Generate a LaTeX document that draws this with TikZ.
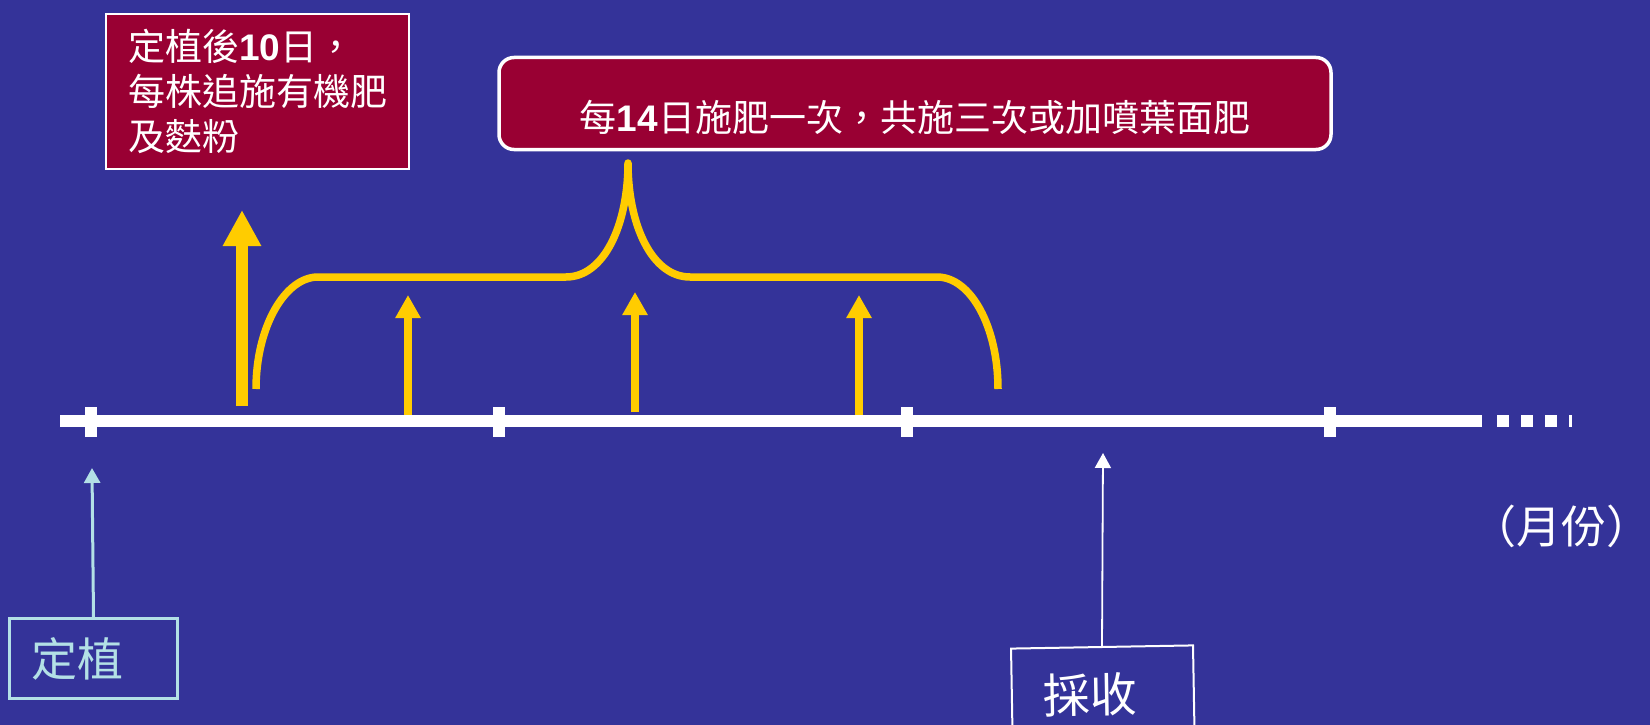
\documentclass[tikz,border=0pt]{standalone}
\usepackage{fontspec}
\newfontfamily\cjk{Noto Sans CJK TC}
\newfontfamily\arialf{Liberation Sans}
\usetikzlibrary{arrows.meta}
\definecolor{bgblue}{RGB}{52,51,153}
\definecolor{crimson}{RGB}{153,0,51}
\definecolor{gold}{RGB}{255,204,0}
\definecolor{pale}{RGB}{179,224,230}
\begin{document}
\begin{tikzpicture}[x=1pt,y=-1pt,
  notebox/.style={draw=white, line width=2pt, fill=crimson, text=white},
  goldline/.style={draw=gold, line width=7.5pt, line join=round},
  bigarrow/.style={draw=gold, line width=12pt, -{Triangle[width=36pt,length=36pt]}},
  smallarrow/.style={draw=gold, line width=8pt, -{Triangle[width=24pt,length=23pt]}},
  palearrow/.style={draw=pale, line width=3pt, -{Triangle[width=16pt,length=15pt]}},
  whitearrow/.style={draw=white, line width=1.8pt, -{Triangle[width=16pt,length=15pt]}},
  tickmark/.style={fill=white}
]
\useasboundingbox (0,0) rectangle (1650,725);
\fill[bgblue] (0,0) rectangle (1650,725);

% timeline
\coordinate (tlstart) at (60,421);
\coordinate (tlend) at (1482,421);
\coordinate (dotstart) at (1497,421);
\coordinate (dotend) at (1572,421);
\draw[white, line width=12pt] (tlstart) -- (tlend);
\draw[white, line width=12pt, dash pattern=on 12pt off 12pt] (dotstart) -- (dotend);
\foreach \tx in {91,499,907,1330}{
  \fill[tickmark] (\tx-6,407) rectangle (\tx+6,437);
}

% top-left note
\node[notebox, anchor=north west, minimum width=303pt, minimum height=155pt,
      text width=259pt, inner xsep=22pt, align=left,
      font=\cjk\fontsize{37}{45}\selectfont] (first) at (105,13)
  {定植後{\arialf\bfseries 10}日，\\每株追施有機肥\\及麩粉};

% central note
\node[notebox, line width=3.5pt, rounded corners=15pt, minimum width=832pt, minimum height=92pt] (every) at (915,103.5) {};
\node[text=white, font=\cjk\fontsize{37}{44}\selectfont] (everytext) at (915,117)
  {每{\arialf\bfseries 14}日施肥一次，共施三次或加噴葉面肥};

% brace
\draw[goldline] (256,389) .. controls (256,327) and (285,277) .. (318,277)
  -- (566,277) .. controls (604,277) and (628,225) .. (628,163)
  .. controls (628,225) and (652,277) .. (690,277)
  -- (937,277) .. controls (971,277) and (998,327) .. (998,389);

% gold arrows
\coordinate (b0) at (242,406); \coordinate (t0) at (242,210);
\coordinate (b1) at (408,415); \coordinate (t1) at (408,295);
\coordinate (b2) at (635,412); \coordinate (t2) at (635,292);
\coordinate (b3) at (859,415); \coordinate (t3) at (859,295);
\draw[bigarrow] (b0) -- (t0);
\draw[smallarrow] (b1) -- (t1);
\draw[smallarrow] (b2) -- (t2);
\draw[smallarrow] (b3) -- (t3);

% planting
\node[draw=pale, line width=3pt, text=pale, anchor=north west, minimum width=168pt, minimum height=80pt,
      text width=124pt, inner xsep=22pt, align=left,
      font=\cjk\fontsize{46}{55}\selectfont] (plant) at (8,617) {定植};
\coordinate (planttip) at (92,468);
\draw[palearrow] (plant.north) -- (planttip);

% harvest
\node[draw=white, line width=2pt, text=white, anchor=north, rotate=1, minimum width=182pt, minimum height=95pt,
      text width=120pt, inner xsep=31pt, align=left,
      font=\cjk\fontsize{47}{56}\selectfont] (harvest) at (1102,646) {採收};
\coordinate (harvtip) at (1103,453);
\draw[whitearrow] (harvest.north) -- (harvtip);

% month label
\node[text=white, inner sep=0pt, font=\cjk\fontsize{45}{54}\selectfont] (month) at (1561,526) {（月份）};
\end{tikzpicture}
\end{document}
